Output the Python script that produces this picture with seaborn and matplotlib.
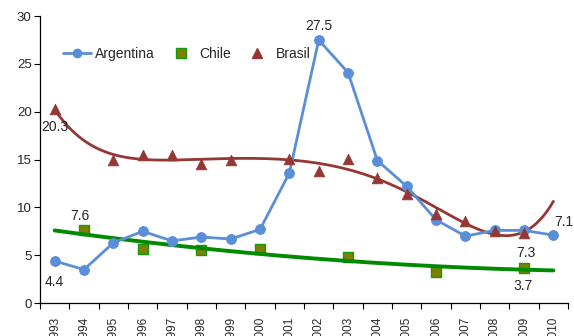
import numpy as np
import pandas as pd
import matplotlib
matplotlib.use("Agg")
import matplotlib.pyplot as plt
from matplotlib.lines import Line2D
import seaborn as sns

years = [str(y) for y in range(1993, 2011)]
argentina = [4.4, 3.5, 6.3, 7.5, 6.5, 6.9, 6.7, 7.7, 13.6, 27.5,
             24.1, 14.9, 12.2, 8.7, 7.0, 7.6, 7.6, 7.1]
chile = [np.nan, 7.6, np.nan, 5.7, np.nan, 5.5, np.nan, 5.7, np.nan, np.nan,
         4.8, np.nan, np.nan, 3.2, np.nan, np.nan, 3.7, np.nan]
brasil = [20.3, np.nan, 15.0, 15.5, 15.5, 14.5, 15.0, np.nan, 15.1, 13.8,
          15.1, 13.1, 11.4, 9.3, 8.6, 7.5, 7.3, np.nan]

sns.set_theme(style="white")
plt.rcParams["font.family"] = ["Liberation Sans", "DejaVu Sans"]

C_ARG = "#5A8FD8"
C_CHI_FILL = "#808000"
C_CHI_EDGE = "#139A13"
C_CHI_TREND = "#008A00"
C_BRA = "#953735"

df = pd.DataFrame({"idx": np.arange(len(years)), "year": years,
                   "Argentina": argentina, "Chile": chile, "Brasil": brasil})

fig = plt.figure(figsize=(5.74, 3.36), dpi=100)
ax = fig.add_axes([0.0697, 0.098, 0.92, 0.854])

# polynomial trend lines fitted over the category positions (1..n)
fine = np.linspace(0, len(years) - 1, 300)
def trend_fine(col, order):
    d = df.dropna(subset=[col])
    coef = np.polyfit(d["idx"] + 1, d[col], order)
    return np.polyval(coef, fine + 1)

sns.lineplot(x=fine, y=trend_fine("Chile", 2), ax=ax, color=C_CHI_TREND,
             linewidth=2.8, zorder=3)
sns.lineplot(x=fine, y=trend_fine("Brasil", 6), ax=ax, color=C_BRA,
             linewidth=2.0, zorder=3)

sns.lineplot(data=df, x="idx", y="Argentina", ax=ax, color=C_ARG,
             linewidth=2.0, marker="o", markersize=7, markeredgecolor=C_ARG,
             zorder=4)
sns.scatterplot(data=df, x="idx", y="Chile", ax=ax, marker="s", s=60,
                color=C_CHI_FILL, edgecolor=C_CHI_EDGE, linewidth=1.0, zorder=2)
sns.scatterplot(data=df, x="idx", y="Brasil", ax=ax, marker="^", s=60,
                color=C_BRA, edgecolor=C_BRA, linewidth=0.5, zorder=5)

# value labels
fs = 10
ax.text(0, argentina[0] - 1.5, f"{argentina[0]}", ha="center", va="top", fontsize=fs)
ax.text(0.0, brasil[0] - 1.2, f"{brasil[0]}", ha="center", va="top", fontsize=fs)
ax.text(0.85, chile[1] + 0.8, f"{chile[1]}", ha="center", va="bottom", fontsize=fs)
ax.text(9, argentina[9] + 0.7, f"{argentina[9]}", ha="center", va="bottom", fontsize=fs)
ax.text(17.35, argentina[17] + 0.6, f"{argentina[17]}", ha="center", va="bottom", fontsize=fs)
ax.text(16.05, brasil[16] - 2.8, f"{brasil[16]}", ha="center", va="bottom", fontsize=fs)
ax.text(15.95, chile[16] - 1.2, f"{chile[16]}", ha="center", va="top", fontsize=fs)

ax.set_xlim(-0.5, len(years) - 0.5)
ax.set_ylim(0, 30)
ax.set_yticks(range(0, 31, 5))
ax.set_xticks(range(len(years)))
ax.set_xticklabels(years, rotation=90, fontsize=8.5)
ax.set_xticks(np.arange(-0.5, len(years), 1), minor=True)
ax.tick_params(axis="x", which="major", length=0, pad=10)
ax.tick_params(axis="x", which="minor", length=4, width=0.8, color="black", bottom=True)
ax.tick_params(axis="y", length=4, width=0.8, color="black", left=True, labelsize=9.5, pad=2)
ax.set_xlabel("")
ax.set_ylabel("")
for s in ["top", "right"]:
    ax.spines[s].set_visible(False)
for s in ["left", "bottom"]:
    ax.spines[s].set_color("black")
    ax.spines[s].set_linewidth(0.9)

handles = [
    Line2D([0], [0], color=C_ARG, linewidth=2.0, marker="o", markersize=6),
    Line2D([0], [0], color="none", marker="s", markersize=7,
           markerfacecolor=C_CHI_FILL, markeredgecolor=C_CHI_EDGE),
    Line2D([0], [0], color="none", marker="^", markersize=7,
           markerfacecolor=C_BRA, markeredgecolor=C_BRA),
]
ax.legend(handles, ["Argentina", "Chile", "Brasil"], ncol=3, frameon=False,
          loc="upper left", bbox_to_anchor=(0.02, 0.935), fontsize=10,
          handlelength=2.0, handletextpad=0.3, columnspacing=0.9)

fig.savefig("out.png", dpi=100)
